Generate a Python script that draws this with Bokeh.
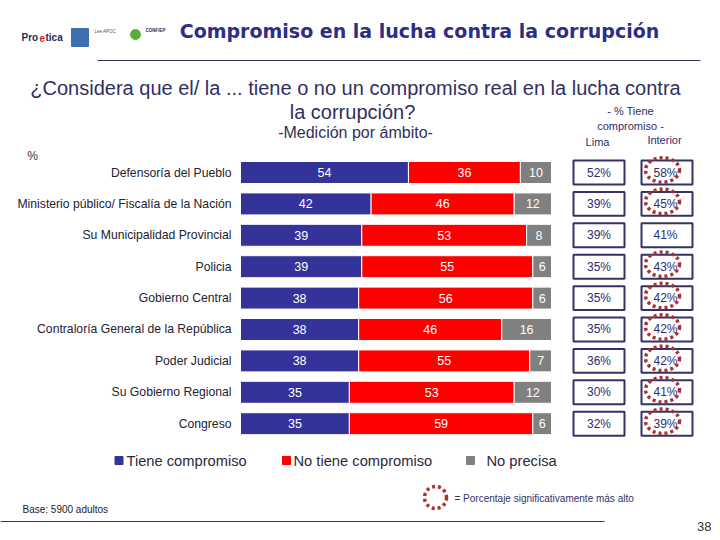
from bokeh.plotting import figure
from bokeh.models import Range1d, Label, ColumnDataSource
from bokeh.core.properties import value
from bokeh.embed import file_html
from bokeh.resources import INLINE

# ---------------- data ----------------
categories = [
    "Defensoría del Pueblo",
    "Ministerio público/ Fiscalía de la Nación",
    "Su Municipalidad Provincial",
    "Policia",
    "Gobierno Central",
    "Contraloría General de la República",
    "Poder Judicial",
    "Su Gobierno Regional",
    "Congreso",
]
tiene = [54, 42, 39, 39, 38, 38, 38, 35, 35]
no_tiene = [36, 46, 53, 55, 56, 46, 55, 53, 59]
no_precisa = [10, 12, 8, 6, 6, 16, 7, 12, 6]
lima = [52, 39, 39, 35, 35, 35, 36, 30, 32]
interior = [58, 45, 41, 43, 42, 42, 42, 41, 39]
significant = [True, True, False, True, True, True, True, True, True]
series_names = ["Tiene compromiso", "No tiene compromiso", "No precisa"]

BLUE = "#333399"
RED = "#ff0000"
GRAY = "#808080"
NAVY = "#2e2e6e"
FONT = "Liberation Sans"

W, H = 720, 540
p = figure(width=W, height=H, output_backend="svg", toolbar_location=None,
           x_axis_type=None, y_axis_type=None, min_border=0,
           x_range=Range1d(-77.17, 154.34), y_range=Range1d(11.72, -5.478))
p.outline_line_color = None
p.grid.visible = False
p.background_fill_color = "white"
p.border_fill_color = "white"
# page coordinate ranges for decorations
p.extra_x_ranges = {"px": Range1d(0, 720)}
p.extra_y_ranges = {"py": Range1d(540, 0)}

rows = list(range(len(categories)))
right2 = [a + b for a, b in zip(tiene, no_tiene)]
right3 = [a + b + c for a, b, c in zip(tiene, no_tiene, no_precisa)]
src = ColumnDataSource(dict(
    y=rows, cat=categories,
    t0=[0] * len(rows), t1=tiene, n1=right2, p1=right3,
    tl=[str(v) for v in tiene], nl=[str(v) for v in no_tiene], pl=[str(v) for v in no_precisa],
    tc=[v / 2 for v in tiene],
    nc=[a + b / 2 for a, b in zip(tiene, no_tiene)],
    pc=[a + b / 2 for a, b in zip(right2, no_precisa)],
    lima=[f"{v}%" for v in lima], inter=[f"{v}%" for v in interior],
))

BH = 0.7
p.hbar(y="y", left="t0", right="t1", height=BH, color=BLUE, line_color="white", line_width=1, source=src)
p.hbar(y="y", left="t1", right="n1", height=BH, color=RED, line_color="white", line_width=1, source=src)
p.hbar(y="y", left="n1", right="p1", height=BH, color=GRAY, line_color="white", line_width=1, source=src)

lab_kw = dict(text_color="white", text_font=value(FONT), text_font_size="12.5px",
              text_align="center", text_baseline="middle", source=src)
p.text(x="tc", y="y", text="tl", **lab_kw)
p.text(x="nc", y="y", text="nl", **lab_kw)
p.text(x="pc", y="y", text="pl", **lab_kw)

# category labels
p.text(x="t0", y="y", text="cat", x_offset=-9, text_align="right", text_baseline="middle",
       text_font=value(FONT), text_font_size="12.2px", text_color="#222233", source=src)

# Lima / Interior boxes
p.rect(x=598.5, y="y", width=51, height=0.76, fill_color="white", line_color="#333366",
       line_width=2, x_range_name="px", source=src)
p.rect(x=666.5, y="y", width=51, height=0.76, fill_color="white", line_color="#333366",
       line_width=2, x_range_name="px", source=src)
bx_kw = dict(text_font=value(FONT), text_font_size="12px", text_color=NAVY,
             text_align="center", text_baseline="middle", x_range_name="px", source=src)
p.text(x=598.5, y="y", text="lima", **bx_kw)
p.text(x=665, y="y", text="inter", **bx_kw)

sig_rows = [r for r, s in zip(rows, significant) if s]
p.ellipse(x=[662] * len(sig_rows), y=[r - 0.08 for r in sig_rows], width=34, height=0.78,
          fill_color=None, line_color="#a83232", line_width=3.5, line_dash="3 3",
          x_range_name="px")

def lbl(x, y, text, size, color=NAVY, align="left", base="middle", style="normal", font=FONT):
    p.add_layout(Label(x=x, y=y, text=text, x_range_name="px", y_range_name="py",
                       text_font=font, text_font_size=size, text_color=color,
                       text_align=align, text_baseline=base, text_font_style=style))

# header logos (approximation)
lbl(21, 37, "Pro", "10px", color="#2a2a5a", style="bold")
lbl(39, 37, "e", "10px", color="#d02020", style="bold")
lbl(45, 37, "tica", "10px", color="#2a2a5a", style="bold")
p.quad(left=[71], right=[88], top=[28], bottom=[46], color="#3f6fb0",
       x_range_name="px", y_range_name="py")
lbl(94, 31, "Lee APOC", "4.5px", color="#555555")
p.circle(x=[135], y=[34], radius=5, color="#5cae3a", x_range_name="px", y_range_name="py")
lbl(145, 30, "CONFIEP", "4.5px", color="#2a2a5a", style="bold")

# title
lbl(419, 30, "Compromiso en la lucha contra la corrupción", "19px", color="#2d2d86",
    align="center", style="bold", font="DejaVu Sans")
p.line(x=[97, 700], y=[60, 60], line_color="#333366", line_width=1,
       x_range_name="px", y_range_name="py")

# question
lbl(355, 87, "¿Considera que el/ la ... tiene o no un compromiso real en la lucha contra",
    "20px", color="#303060", align="center")
lbl(352, 111, "la corrupción?", "20px", color="#303060", align="center")
lbl(355, 132, "-Medición por ámbito-", "16px", color="#303060", align="center")

lbl(630, 110, "- % Tiene", "11px", color=NAVY, align="center")
lbl(630, 125, "compromiso -", "11px", color=NAVY, align="center")
lbl(597, 141, "Lima", "11px", color=NAVY, align="center")
lbl(664, 139, "Interior", "11px", color=NAVY, align="center")

lbl(32, 155, "%", "12px", color="#333333", align="center")

# legend
leg_colors = [BLUE, RED, GRAY]
leg_sq_x = [118.5, 286, 470]
leg_txt_x = [126, 293, 486]
for c, sx, tx, name in zip(leg_colors, leg_sq_x, leg_txt_x, series_names):
    p.rect(x=[sx], y=[460], width=8, height=8, color=c, x_range_name="px", y_range_name="py")
    lbl(tx, 460, name, "14.7px", color="#2a2a3a")

# bottom notes
p.ellipse(x=[435], y=[497], width=22, height=22, fill_color=None, line_color="#a83232",
          line_width=3.5, line_dash="3 3", x_range_name="px", y_range_name="py")
lbl(454, 498, "= Porcentaje significativamente más alto", "10px", color="#333366")
lbl(22, 509, "Base: 5900 adultos", "10px", color="#222222")
p.line(x=[0, 604], y=[521, 521], line_color="#333366", line_width=1,
       x_range_name="px", y_range_name="py")
lbl(711, 526, "38", "13px", color="#333333", align="right")

open("out.html", "w").write(file_html(p, INLINE))
